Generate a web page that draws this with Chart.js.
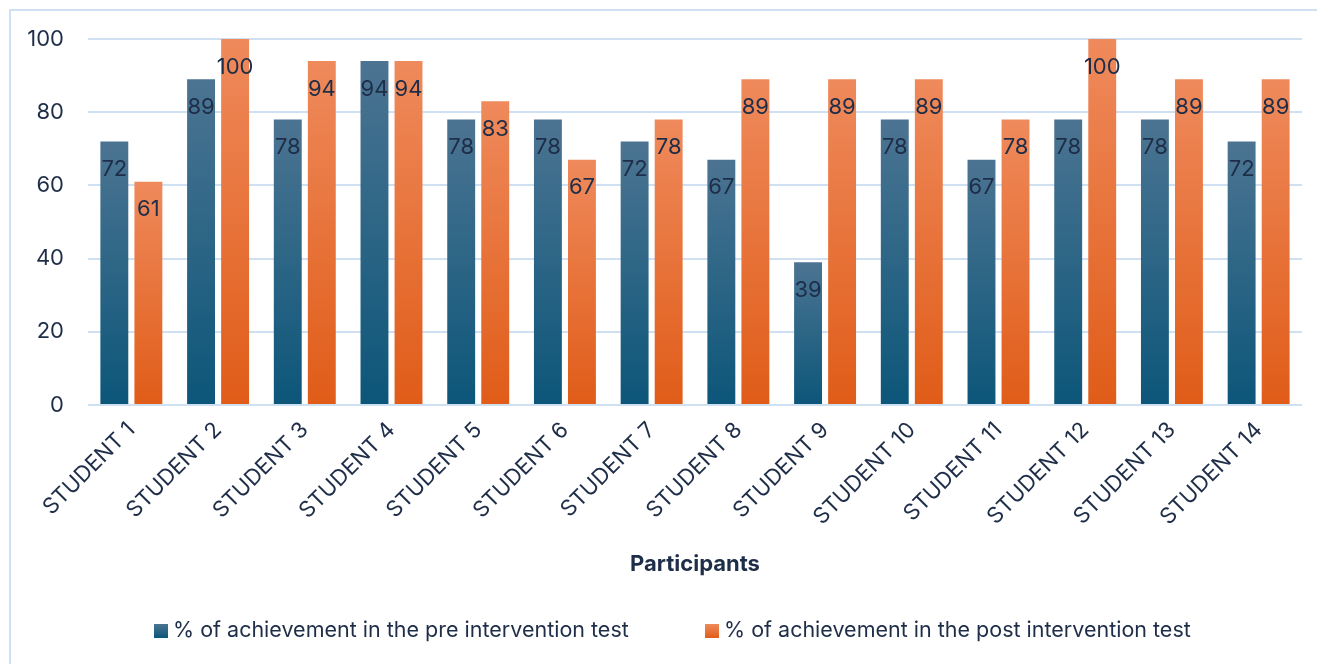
<!DOCTYPE html>
<html>
<head>
<meta charset="utf-8">
<title>Achievement pre / post intervention</title>
<script src="https://cdn.jsdelivr.net/npm/chart.js@4.4.1/dist/chart.umd.min.js"></script>
<style>
  html, body { margin: 0; padding: 0; background: #fff; overflow: hidden; }
  #wrap   { position: relative; width: 1317px; height: 664px; }
  #frame  { position: absolute; left: 9px; top: 9px; width: 1400px; height: 700px;
            border: 2px solid #cfe0f2; box-sizing: border-box; }
  #chart  { position: absolute; left: 0; top: 0; }
  .leg    { position: absolute; top: 616px; font: 21.5px Inter, sans-serif; color: #1e2d48;
            white-space: nowrap; line-height: 26px; }
  .leg i  { display: inline-block; width: 14px; height: 14px; margin-right: 5px; vertical-align: -1px; }
  .pre  i { background: linear-gradient(#4c7492, #0c5679); }
  .post i { background: linear-gradient(#ef8a5c, #e05c18); }
</style>
</head>
<body>
<div id="wrap">
  <div id="frame"></div>
  <canvas id="chart" width="1317" height="664"></canvas>
  <div class="leg pre"  style="left:154px"><i></i>% of achievement in the pre intervention test</div>
  <div class="leg post" style="left:705px"><i></i>% of achievement in the post intervention test</div>
</div>

<script>
// ── Data ─────────────────────────────────────────────────────
const students = ['STUDENT 1', 'STUDENT 2', 'STUDENT 3', 'STUDENT 4', 'STUDENT 5', 'STUDENT 6', 'STUDENT 7',
                  'STUDENT 8', 'STUDENT 9', 'STUDENT 10', 'STUDENT 11', 'STUDENT 12', 'STUDENT 13', 'STUDENT 14'];
const preTest  = [72, 89, 78, 94, 78, 78, 72, 67, 39, 78, 67, 78, 78, 72];
const postTest = [61, 100, 94, 94, 83, 67, 78, 89, 89, 89, 78, 100, 89, 89];
const yTicks   = [0, 20, 40, 60, 80, 100];

// ── Palette ──────────────────────────────────────────────────
const FONT = 'Inter, sans-serif';
const TEXT = '#1e2d48';
const GRID = '#cfe0f2';
const SIZE = 22;

// vertical gradient per bar, light at its top, dark at the base
function barGradient(top, bottom) {
  return c => {
    const y = c.chart.scales.y;
    if (c.type !== 'data' || !y || y.top === undefined) return bottom;
    const g = c.chart.ctx.createLinearGradient(0, y.getPixelForValue(c.raw), 0, y.getPixelForValue(0));
    g.addColorStop(0, top);
    g.addColorStop(1, bottom);
    return g;
  };
}

// value printed inside each bar, a little below its top
const valueLabels = {
  id: 'valueLabels',
  afterDatasetsDraw(chart) {
    const ctx = chart.ctx;
    ctx.save();
    ctx.font = SIZE + 'px ' + FONT;
    ctx.fillStyle = TEXT;
    ctx.textAlign = 'center';
    ctx.textBaseline = 'middle';
    chart.data.datasets.forEach((ds, i) => {
      chart.getDatasetMeta(i).data.forEach((bar, j) => {
        ctx.fillText(ds.data[j], bar.x, bar.y + 28);
      });
    });
    ctx.restore();
  }
};

new Chart(document.getElementById('chart'), {
  type: 'bar',
  data: {
    labels: students,
    datasets: [
      { label: '% of achievement in the pre intervention test',  data: preTest,
        backgroundColor: barGradient('#4c7492', '#0c5679') },
      { label: '% of achievement in the post intervention test', data: postTest,
        backgroundColor: barGradient('#ef8a5c', '#e05c18') }
    ]
  },
  options: {
    responsive: false,
    animation: false,
    categoryPercentage: 0.785,
    barPercentage: 0.82,
    layout: { padding: { top: 39, right: 15, bottom: 86, left: 0 } },
    plugins: { legend: { display: false }, tooltip: { enabled: false } },
    scales: {
      y: {
        min: 0, max: 100,
        afterBuildTicks: s => { s.ticks = yTicks.map(v => ({ value: v })); },
        afterFit: s => { s.width = 88; },
        ticks: { color: TEXT, font: { family: FONT, size: SIZE }, padding: 24 },
        grid: { color: GRID, lineWidth: 2, drawTicks: false },
        border: { display: false }
      },
      x: {
        afterFit: s => { s.height = 173; },
        ticks: { color: TEXT, font: { family: FONT, size: SIZE }, minRotation: 45, maxRotation: 45, padding: 4 },
        grid: { display: false },
        border: { display: false },
        title: { display: true, text: 'Participants', color: TEXT,
                 font: { family: FONT, size: SIZE, weight: 'bold' }, padding: { top: 14, bottom: 0 } }
      }
    }
  },
  plugins: [valueLabels]
});
</script>
</body>
</html>
